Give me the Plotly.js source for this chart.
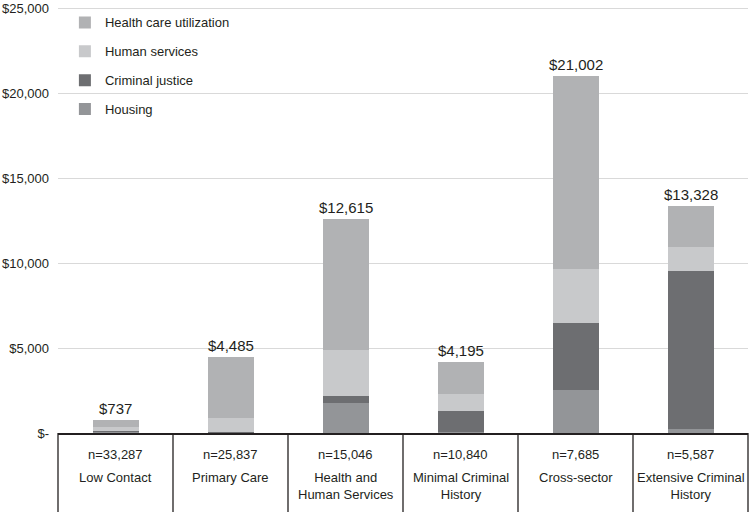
<!DOCTYPE html>
<html>
<head>
<meta charset="utf-8">
<script src="https://cdn.plot.ly/plotly-3.0.1.min.js"></script>
<style>html,body{margin:0;padding:0;background:#fff;}#chart{width:749px;height:512px;}</style>
</head>
<body>
<div id="chart"></div>
<script>
const categories = ["Low Contact", "Primary Care", "Health and<br>Human Services", "Minimal Criminal<br>History", "Cross-sector", "Extensive Criminal<br>History"];
const sampleSizes = ["n=33,287", "n=25,837", "n=15,046", "n=10,840", "n=7,685", "n=5,587"];
const totals = [737, 4485, 12615, 4195, 21002, 13328];
const housing = [50, 20, 1750, 50, 2550, 230];
const criminalJustice = [80, 20, 400, 1250, 3900, 9300];
const humanServices = [230, 870, 2750, 1000, 3200, 1400];
const healthCare = [377, 3575, 7715, 1895, 11352, 2398];
const yTickVals = [0, 5000, 10000, 15000, 20000, 25000];
const yTickText = ["$-", "$5,000", "$10,000", "$15,000", "$20,000", "$25,000"];

const xIdx = categories.map((c, i) => i);
const txt = "#231f20";
const fontFam = "Liberation Sans, Arial, sans-serif";

function bar(name, vals, color, grp, rank) {
  return {type: "bar", name: name, x: xIdx, y: vals, width: 0.4,
    marker: {color: color, line: {width: 0}}, legendgroup: grp, legendrank: rank, hoverinfo: "skip"};
}
const traces = [
  bar("Housing", housing, "#939598", "d", 4),
  bar("Criminal justice", criminalJustice, "#6d6e71", "c", 3),
  bar("Human services", humanServices, "#c8c9cb", "b", 2),
  bar("Health care utilization", healthCare, "#b1b2b4", "a", 1)
];

const fmt = v => "$" + v.toLocaleString("en-US");
const annotations = [];
xIdx.forEach(i => {
  annotations.push({x: i, y: totals[i], xref: "x", yref: "y", text: fmt(totals[i]), showarrow: false,
    yanchor: "bottom", yshift: 1, font: {size: 15, color: txt, family: fontFam}});
  annotations.push({x: i, y: 0, xref: "x", yref: "paper", text: sampleSizes[i], showarrow: false,
    yanchor: "middle", yshift: -21, font: {size: 13, color: txt, family: fontFam}});
  annotations.push({x: i, y: 0, xref: "x", yref: "paper", text: categories[i], showarrow: false,
    yanchor: "top", yshift: -35, font: {size: 13, color: txt, family: fontFam}});
});

const shapes = [];
for (let k = 0; k <= categories.length; k++) {
  shapes.push({type: "line", xref: "paper", yref: "paper", x0: k / categories.length, x1: k / categories.length,
    y0: 0, y1: -0.3, line: {color: txt, width: 1.3}});
}

const layout = {
  width: 749, height: 512,
  margin: {l: 58, r: 1, t: 7, b: 79},
  paper_bgcolor: "#fff", plot_bgcolor: "#fff",
  barmode: "stack",
  showlegend: true,
  legend: {x: 0.01, y: 0.999, xanchor: "left", yanchor: "top", traceorder: "grouped",
    tracegroupgap: 9, bgcolor: "rgba(0,0,0,0)", font: {size: 13, color: txt, family: fontFam}},
  font: {family: fontFam, color: txt},
  xaxis: {range: [-0.5, 5.5], showticklabels: false, ticks: "", showgrid: false, zeroline: false,
    showline: true, linecolor: txt, linewidth: 1.5, fixedrange: true},
  yaxis: {range: [0, 25060], tickvals: yTickVals, ticktext: yTickText, showgrid: true,
    gridcolor: "#d9d9d9", gridwidth: 1, zeroline: false, showline: false, ticks: "",
    ticklabelstandoff: 8, ticklabeloverflow: "allow", tickfont: {size: 13, color: txt, family: fontFam}, fixedrange: true},
  annotations: annotations,
  shapes: shapes
};

Plotly.newPlot("chart", traces, layout, {displayModeBar: false, staticPlot: true});
</script>
</body>
</html>
